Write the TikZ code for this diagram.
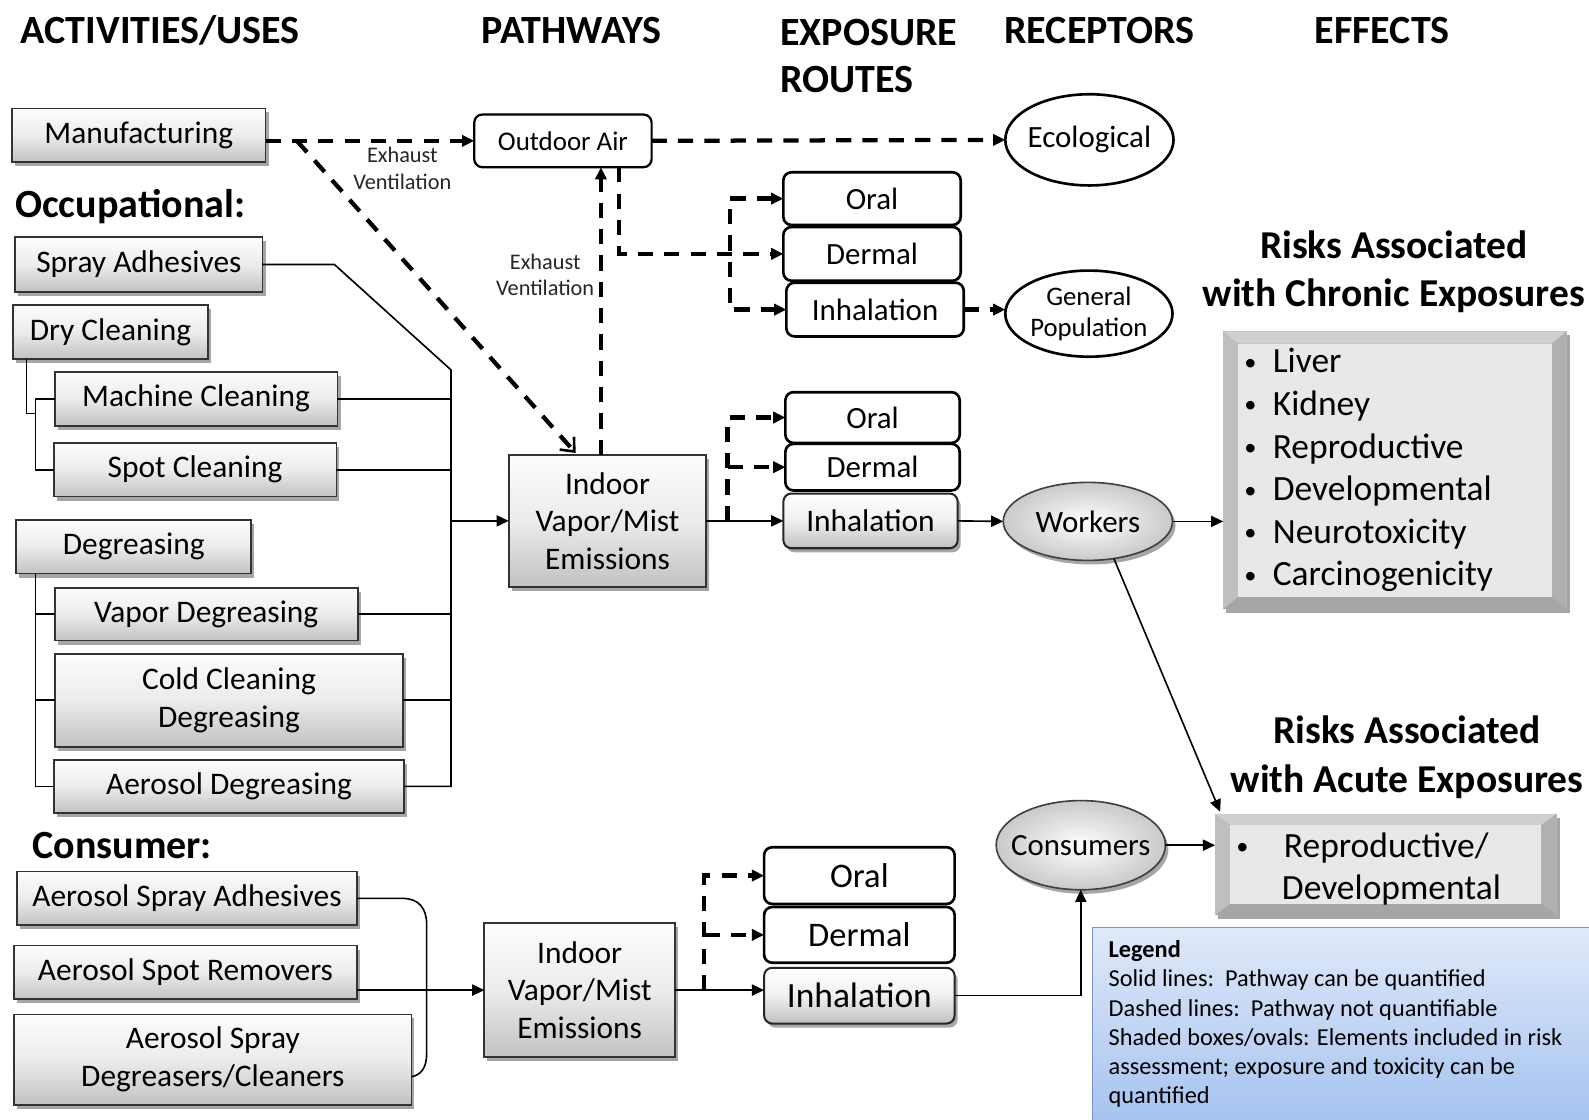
\documentclass[tikz,border=0pt]{standalone}
\usepackage{fontspec}
\setmainfont{Carlito}
\usetikzlibrary{arrows.meta,shadows,shapes.geometric,calc}

\definecolor{legTop}{RGB}{224,233,249}
\definecolor{legBot}{RGB}{166,195,240}
\definecolor{legEdge}{RGB}{120,150,200}

% four bevel faces and the flat face of an effects panel (#2 side bevel, #3 top/bottom bevel)
\newcommand\bevelfaces[3]{%
  \fill[gray!38] (#1.north west) -- (#1.north east) -- ($(#1.north east)+(-#2,#3)$) -- ($(#1.north west)+(#2,#3)$) -- cycle;
  \fill[gray!50] (#1.north west) -- ($(#1.north west)+(#2,#3)$) -- ($(#1.south west)+(#2,-#3)$) -- (#1.south west) -- cycle;
  \fill[gray!62] (#1.north east) -- ($(#1.north east)+(-#2,#3)$) -- ($(#1.south east)+(-#2,-#3)$) -- (#1.south east) -- cycle;
  \fill[gray!70] (#1.south west) -- ($(#1.south west)+(#2,-#3)$) -- ($(#1.south east)+(-#2,-#3)$) -- (#1.south east) -- cycle;
  \fill[gray!18] ($(#1.north west)+(#2,#3)$) rectangle ($(#1.south east)+(-#2,-#3)$);
}
\newcommand\smallbullet{\raisebox{2.5pt}{\fontsize{24}{24}\selectfont•}}

\begin{document}
\begin{tikzpicture}[x=1pt,y=-1pt,
  tri/.tip={Triangle[length=12pt,width=11pt]},
  barb/.tip={Straight Barb[length=11pt,width=19pt,line width=2.6pt]},
  base/.style={inner sep=0pt, outer sep=0pt, align=center},
  hdr/.style={base, font=\bfseries\fontsize{39.5}{46}\selectfont},
  grp/.style={base, anchor=west, font=\bfseries\fontsize{39.5}{46}\selectfont},
  ttl/.style={base, font=\bfseries\fontsize{39}{48}\selectfont},
  softshadow/.style={drop shadow={shadow xshift=3pt, shadow yshift=-4pt, opacity=0.35, fill=black}},
  actbox/.style={base, rectangle, draw=black!80, line width=1.8pt, top color=gray!2, bottom color=gray!48, middle color=gray!15, softshadow, font=\fontsize{31}{37}\selectfont},
  routebox/.style={base, rectangle, rounded corners=8pt, draw=black, line width=2.6pt, fill=white, font=\fontsize{30.5}{37}\selectfont},
  routeshade/.style={base, rectangle, rounded corners=8pt, draw=black!85, line width=2pt, top color=white, bottom color=gray!50, middle color=gray!12, softshadow, font=\fontsize{31}{37}\selectfont},
  recep/.style={base, ellipse, draw=black, line width=2.6pt, fill=white},
  recepshade/.style={base, ellipse, draw=black!75, line width=1.6pt, inner color=white, outer color=gray!42, softshadow},
  bevelbox/.style={base, rectangle, fill=gray!55, softshadow},
  legendbox/.style={base, rectangle, top color=legTop, bottom color=legBot},
  note/.style={base, font=\fontsize{22}{26}\selectfont, text=black!85},
  conn/.style={line width=1.6pt},
  dconn/.style={line width=4.2pt, dash pattern=on 15pt off 11pt},
]
\useasboundingbox (0,0) rectangle (1568,1105);
\fill[white] (0,0) rectangle (1568,1105);

% column headings
\node[hdr] (hAct) at (158,30) {ACTIVITIES/USES};
\node[hdr] (hPath) at (564,30) {PATHWAYS};
\node[hdr, align=left, anchor=west] (hExp) at (770,55) {EXPOSURE\\ROUTES};
\node[hdr] (hRec) at (1085,30) {RECEPTORS};
\node[hdr] (hEff) at (1364,30) {EFFECTS};

% activities / uses
\node[actbox, minimum width=250, minimum height=53] (manu) at (137,133.5) {Manufacturing};
\node[grp] (gOcc) at (15,204) {Occupational:};
\node[actbox, minimum width=244, minimum height=54] (spray) at (137,261) {Spray Adhesives};
\node[actbox, minimum width=192, minimum height=53] (dry) at (109,327.5) {Dry Cleaning};
\node[actbox, minimum width=279, minimum height=53] (mach) at (193.5,393.5) {Machine Cleaning};
\node[actbox, minimum width=279, minimum height=53] (spot) at (192.5,463.5) {Spot Cleaning};
\node[actbox, minimum width=232, minimum height=53] (degr) at (132,539.5) {Degreasing};
\node[actbox, minimum width=299, minimum height=52] (vapor) at (203.5,606) {Vapor Degreasing};
\node[actbox, minimum width=344, minimum height=92] (cold) at (226,691) {Cold Cleaning\\Degreasing};
\node[actbox, minimum width=346, minimum height=52] (aerdeg) at (226,776) {Aerosol Degreasing};
\node[grp] (gCon) at (32,834) {Consumer:};
\node[actbox, minimum width=335, minimum height=53] (asa) at (184.5,886.5) {Aerosol Spray Adhesives};
\node[actbox, minimum width=338, minimum height=53] (asr) at (183,959.5) {Aerosol Spot Removers};
\node[actbox, minimum width=392, minimum height=89] (asd) at (210,1045.5) {Aerosol Spray\\Degreasers/Cleaners};

% pathways
\node[actbox, minimum width=195, minimum height=130] (indoor1) at (599.5,514) {Indoor\\Vapor/Mist\\Emissions};
\node[actbox, minimum width=188, minimum height=132] (indoor2) at (572,977) {Indoor\\Vapor/Mist\\Emissions};
\node[routebox, line width=2.2pt, minimum width=175, minimum height=52, font=\fontsize{26.6}{30}\selectfont] (outdoor) at (555.5,139) {Outdoor Air};
\node[note] (ev1txt) at (397,166) {Exhaust\\Ventilation};
\node[note] (ev2txt) at (538,271) {Exhaust\\Ventilation};

% exposure routes
\node[routebox, minimum width=175, minimum height=52] (oral1) at (860.5,196) {Oral};
\node[routebox, minimum width=175, minimum height=53] (derm1) at (860.5,250.5) {Dermal};
\node[routebox, minimum width=175, minimum height=53] (inh1) at (863.5,305.5) {Inhalation};
\node[routebox, minimum width=172, minimum height=50] (oral2) at (861,412) {Oral};
\node[routebox, minimum width=172, minimum height=46] (derm2) at (861,461) {Dermal};
\node[routeshade, minimum width=172, minimum height=54] (inh2) at (859,514) {Inhalation};
\node[routebox, minimum width=188, minimum height=56, font=\fontsize{34}{40}\selectfont] (oral3) at (848,864) {Oral};
\node[routebox, minimum width=188, minimum height=55, font=\fontsize{34}{40}\selectfont] (derm3) at (848,922.5) {Dermal};
\node[routeshade, minimum width=188, minimum height=55, font=\fontsize{35}{40}\selectfont] (inh3) at (848,982.5) {Inhalation};

% receptors
\node[recep, minimum width=166, minimum height=90] (eco) at (1075,138) {};
\node[base, font=\fontsize{30.5}{37}\selectfont] (ecoTxt) at (eco) {Ecological};
\node[recep, minimum width=165, minimum height=85] (genpop) at (1074.5,309.5) {};
\node[base, font=\fontsize{26.4}{31}\selectfont] (genpopTxt) at (genpop) {General\\Population};
\node[recepshade, minimum width=167, minimum height=77] (workers) at (1073.5,514.5) {};
\node[base, font=\fontsize{30.6}{37}\selectfont] (workersTxt) at (workers) {Workers};
\node[recepshade, minimum width=167, minimum height=88] (consumers) at (1066.5,834) {};
\node[base, font=\fontsize{30.4}{37}\selectfont] (consumersTxt) at (consumers) {Consumers};

% effects
\node[ttl] (tChr) at (1375.5,268) {Risks Associated\\with Chronic Exposures};
\node[bevelbox, minimum width=339, minimum height=274] (chronic) at (1376.5,464) {};
\bevelfaces{chronic}{15}{12}
\foreach \itm [count=\i] in {Liver,Kidney,Reproductive,Developmental,Neurotoxicity,Carcinogenicity}
  \node[base, anchor=base west, font=\fontsize{35}{42}\selectfont] (chr\i) at (1228,326+42*\i) {\makebox[28pt][l]{\smallbullet}\itm};

\node[ttl] (tAcu) at (1388.5,747) {Risks Associated\\with Acute Exposures};
\node[bevelbox, minimum width=337, minimum height=100] (acute) at (1367.5,853) {};
\bevelfaces{acute}{15}{11}
\node[base, anchor=base west, font=\fontsize{35}{42}\selectfont] (acu1) at (1220,846) {\makebox[47pt][l]{\smallbullet}Reproductive/};
\node[base, anchor=base west, font=\fontsize{35}{42}\selectfont] (acu2) at (1265,888) {Developmental};

% legend
\node[legendbox, anchor=north west, minimum width=490, minimum height=190] (legend) at (1078,915) {};
\draw[legEdge, line width=1.2pt] (legend.south west) -- (legend.north west) -- (legend.north east);
\node[base, anchor=base west, font=\bfseries\fontsize{24}{29}\selectfont] (lg0) at (1094,945) {Legend};
\foreach \ln [count=\i] in {{Solid lines:~~Pathway can be quantified},{Dashed lines:~~Pathway not quantifiable},{Shaded boxes/ovals: Elements included in risk},{assessment; exposure and toxicity can be},{quantified}}
  \node[base, anchor=base west, font=\fontsize{24}{29}\selectfont] (lg\i) at (1094,945+28.8*\i) {\ln};

% occupational tree into the indoor emissions box
\coordinate (bus) at (445,0);
\coordinate (busTop) at (445,365);
\draw[conn] (spray.east) -- (330,261) -- (busTop) -- (bus |- aerdeg.east) -- (aerdeg.east);
\draw[conn] (mach.east) -- (mach.east -| bus);
\draw[conn] (spot.east) -- (spot.east -| bus);
\draw[conn] (vapor.east) -- (vapor.east -| bus);
\draw[conn] (cold.east) -- (cold.east -| bus);
\draw[conn,-tri] (bus |- indoor1.west) -- (indoor1.west);

\coordinate (dryLeg) at ($(dry.south west)+(13,0)$);
\coordinate (dryRail) at (35,0);
\draw[conn] (dryLeg) -- ++(0,54) -- ++(9,0);
\draw[conn] (mach.west) -- (mach.west -| dryRail) -- (dryRail |- spot.west) -- (spot.west);
\coordinate (degLeg) at ($(degr.south west)+(19,0)$);
\draw[conn] (degLeg) |- (aerdeg.west);
\draw[conn] (vapor.west) -- (vapor.west -| degLeg);
\draw[conn] (cold.west) -- (cold.west -| degLeg);

% consumer bracket
\coordinate (asdEnd) at ($(asd.east)+(0,17)$);
\draw[conn] (asa.east) -- (397,886.5) .. controls (413,886.5) and (421,896) .. (421,912) -- (421,1040) .. controls (421,1054) and (415,1061) .. (asdEnd);
\draw[conn,-tri] (asr.east |- indoor2.west) -- (indoor2.west);

% manufacturing and outdoor air
\draw[dconn,-tri] (manu.east |- outdoor.west) -- (outdoor.west);
\coordinate (diagStart) at (293,139);
\coordinate (diagEnd) at ($(indoor1.north west)+(66,-2)$);
\draw[dconn,-barb] (diagStart) -- (diagEnd);
\draw[dconn,-tri] (outdoor.east) -- (eco.west);
\coordinate (evx) at (593,0);
\draw[dconn,-tri] (indoor1.north -| evx) -- (outdoor.south -| evx);
\coordinate (ev2x) at (611,0);
\draw[dconn,-tri] (outdoor.south -| ev2x) |- (derm1.west);
\coordinate (sp1) at (720,0);
\draw[dconn,tri-tri] (oral1.west) -- (sp1 |- oral1.west) -- (sp1 |- inh1.west) -- (inh1.west);
\draw[dconn,-tri] (inh1.east) -- (inh1.east -| genpop.west);

% occupational indoor routes
\draw[conn,-tri] (indoor1.east) -- (inh2.west);
\coordinate (sp2) at (718,0);
\draw[dconn,-tri] (sp2 |- indoor1.east) -- (sp2 |- oral2.west) -- (oral2.west);
\draw[dconn,-tri] (sp2 |- derm2.west) -- (derm2.west);
\draw[conn,-tri] (inh2.east) -- (workers.west);
\draw[conn,-tri] (workers.east) -- (workers.east -| chronic.west);
\coordinate (acuteIn) at ($(acute.north west)+(5,-2)$);
\draw[conn,-tri] (workers.-55) -- (acuteIn);

% consumer indoor routes
\draw[conn,-tri] (indoor2.east) -- (indoor2.east -| inh3.west);
\coordinate (sp3) at (695,0);
\draw[dconn,-tri] (sp3 |- indoor2.east) -- (sp3 |- oral3.west) -- (oral3.west);
\draw[dconn,-tri] (sp3 |- derm3.west) -- (derm3.west);
\draw[conn,-tri] (inh3.east) -| (consumers.south);
\draw[conn,-tri] (consumers.east) -- (consumers.east -| acute.west);
\end{tikzpicture}
\end{document}
